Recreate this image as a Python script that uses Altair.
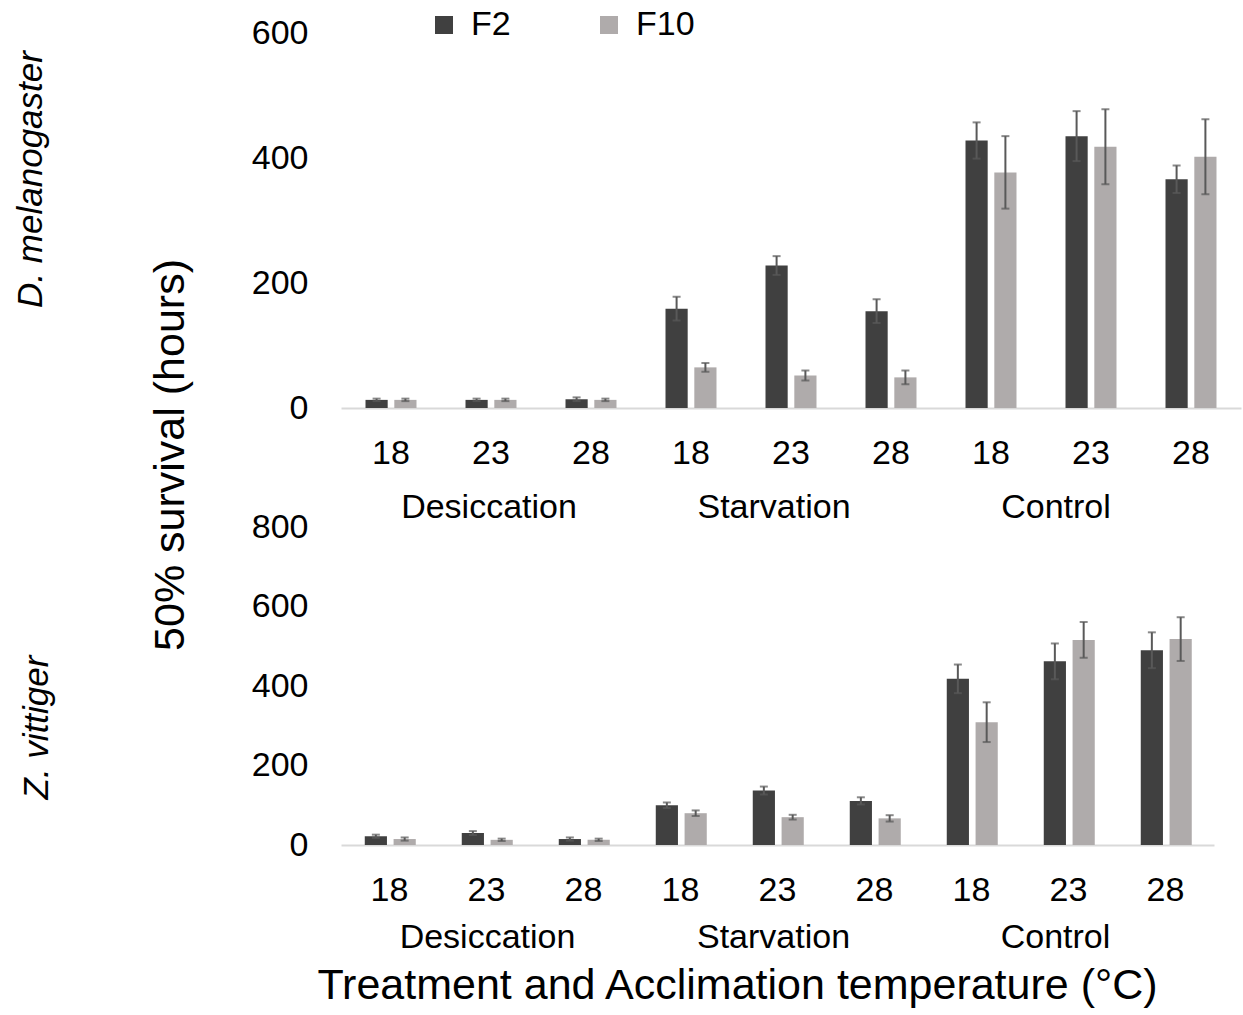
import altair as alt
import pandas as pd

treatments = ["Desiccation", "Starvation", "Control"]
temps = ["18", "23", "28"]
generations = ["F2", "F10"]

# D. melanogaster (hours)
dm_f2 = [13, 13, 14, 159, 228, 155, 428, 435, 366]
dm_f2_err = [2, 2, 3, 19, 15, 19, 29, 40, 22]
dm_f10 = [13, 13, 13, 65, 52, 49, 377, 418, 402]
dm_f10_err = [2, 2, 2, 7, 8, 11, 58, 60, 60]

# Z. vittiger (hours)
zv_f2 = [22, 30, 15, 100, 137, 111, 418, 462, 490]
zv_f2_err = [4, 5, 4, 7, 10, 9, 36, 45, 45]
zv_f10 = [15, 13, 13, 80, 70, 67, 309, 516, 518]
zv_f10_err = [4, 3, 3, 7, 6, 8, 50, 45, 55]

cats = [f"{t}|{c}" for t in treatments for c in temps]
FONT = "Liberation Sans"
DARK = "#404040"
LIGHT = "#AFABAB"
ERR = "#595959"


def make_df(f2, f2e, f10, f10e):
    rows = []
    for i, cat in enumerate(cats):
        for gen, vals, errs in (("F2", f2, f2e), ("F10", f10, f10e)):
            rows.append({"cat": cat, "gen": gen, "value": vals[i],
                         "lo": vals[i] - errs[i], "hi": vals[i] + errs[i]})
    return pd.DataFrame(rows)


def panel(df, width, height, ymax, ticks, species, sp_x, sp_y,
          treat_y, treat_dx, xtitle=None, legend=None, extra=None):
    xscale = alt.Scale(paddingInner=0.49, paddingOuter=0.245)
    xaxis_kw = dict(labelAngle=0, ticks=False, domainColor="#d9d9d9",
                    domainWidth=2, labelPadding=28, labelFontSize=34,
                    labelExpr="split(datum.label, '|')[1]", labelColor="#000")
    if xtitle:
        xaxis_kw.update(title=xtitle, titleFontSize=43, titleFontWeight="normal",
                        titleX=396, titleY=153, titleBaseline="alphabetic",
                        titleAlign="center", titleColor="#000")
    else:
        xaxis_kw.update(title=None)
    x = alt.X("cat:N", sort=cats, scale=xscale, axis=alt.Axis(**xaxis_kw))
    xo = alt.XOffset("gen:N", sort=generations,
                     scale=alt.Scale(paddingInner=0.23))
    yscale = alt.Scale(domain=[0, ymax], nice=False)
    yaxis = alt.Axis(values=ticks, domain=False, ticks=False, grid=False,
                     labelPadding=33, labelFontSize=34, labelColor="#000",
                     title=species, titleFontStyle="italic",
                     titleFontWeight="normal", titleFontSize=35,
                     titleX=sp_x, titleY=sp_y, titleAngle=270,
                     titleAlign="center", titleBaseline="middle",
                     titleColor="#000")
    y = alt.Y("value:Q", scale=yscale, axis=yaxis)
    color = alt.Color("gen:N", sort=generations,
                      scale=alt.Scale(domain=generations, range=[DARK, LIGHT]),
                      legend=legend)
    base = alt.Chart(df)
    bars = base.mark_bar().encode(x=x, xOffset=xo, y=y, color=color)
    rules = base.mark_rule(color=ERR, strokeWidth=2).encode(
        x=x, xOffset=xo, y=alt.Y("lo:Q", scale=yscale, axis=yaxis), y2="hi:Q")
    cap_lo = base.mark_tick(color=ERR, thickness=2, size=8).encode(
        x=x, xOffset=xo, y=alt.Y("lo:Q", scale=yscale, axis=yaxis))
    cap_hi = base.mark_tick(color=ERR, thickness=2, size=8).encode(
        x=x, xOffset=xo, y=alt.Y("hi:Q", scale=yscale, axis=yaxis))
    layers = [bars, rules, cap_lo, cap_hi]
    # group (treatment) labels under the middle temperature of each group
    for t, dx in zip(treatments, treat_dx):
        ldf = pd.DataFrame({"treatment": [t], "cat": [f"{t}|23"]})
        layers.append(alt.Chart(ldf).mark_text(
            fontSize=34, baseline="alphabetic", align="center", font=FONT,
            color="#000", dx=dx).encode(x=x, y=alt.value(treat_y),
                                        text="treatment:N"))
    if extra is not None:
        layers.append(extra)
    return alt.layer(*layers).properties(width=width, height=height)


ytitle_df = pd.DataFrame({"label": ["50% survival (hours)"]})
ytitle = alt.Chart(ytitle_df).mark_text(
    angle=270, fontSize=43, baseline="middle", align="center", font=FONT,
    color="#000").encode(x=alt.value(-170), y=alt.value(422), text="label:N")

legend = alt.Legend(orient="none", legendX=86, legendY=-25, direction="horizontal",
                    title=None, symbolType="square", symbolSize=324,
                    symbolStrokeWidth=0, labelFontSize=34, labelOffset=10,
                    columnPadding=81, padding=0, labelColor="#000")

top = panel(make_df(dm_f2, dm_f2_err, dm_f10, dm_f10_err), 900, 375, 600,
            [0, 200, 400, 600], "D. melanogaster", -311, 146, 485,
            [-2, -17, -35], legend=legend, extra=ytitle)
bottom = panel(make_df(zv_f2, zv_f2_err, zv_f10, zv_f10_err), 873, 318, 800,
               [0, 200, 400, 600, 800], "Z. vittiger", -305, 200, 421,
               [1, -4, -13],
               xtitle="Treatment and Acclimation temperature (°C)", legend=None)

chart = alt.vconcat(top, bottom, spacing=119, bounds="flush").properties(
    padding={"left": 13, "top": 8, "right": 2, "bottom": 2}
).configure(font=FONT).configure_view(stroke=None)

chart.save("out.html", embed_options={"renderer": "svg", "actions": False})
